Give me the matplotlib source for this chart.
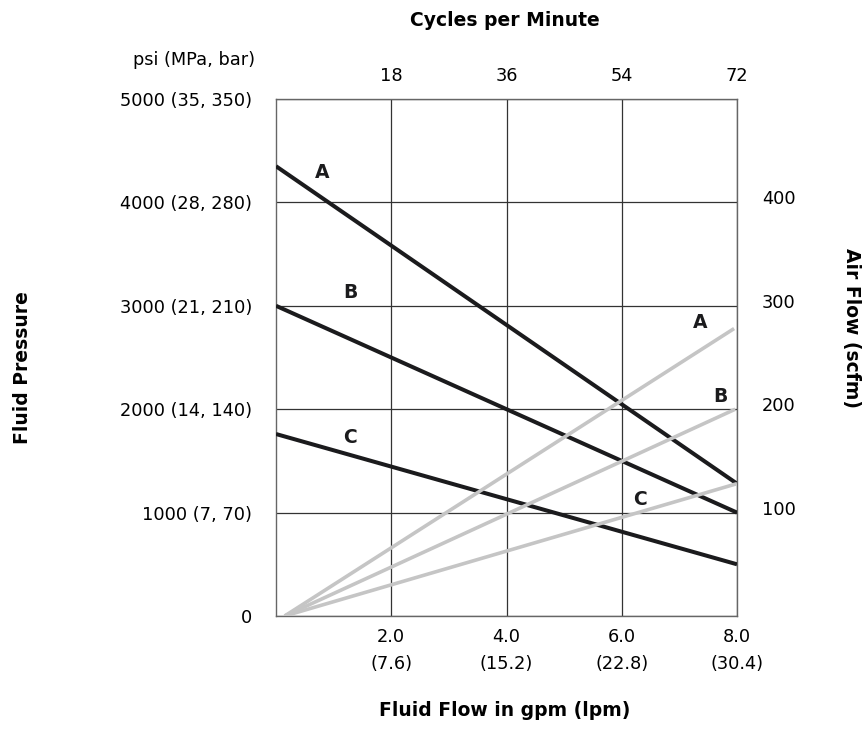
import matplotlib
matplotlib.use("Agg")
import matplotlib.pyplot as plt
import matplotlib.transforms as mtransforms

plt.rcParams['font.family'] = ['DejaVu Sans']

# ---- data ----
flow_gpm = [0.0, 8.0]
pressure_A = [4350, 1280]
pressure_B = [3000, 1000]
pressure_C = [1760, 500]

air_A_x = [0.15, 7.95]
air_A = [0, 278]
air_B_x = [0.15, 7.97]
air_B = [0, 200]
air_C_x = [0.15, 8.0]
air_C = [0, 128]

x_ticks = [2, 4, 6, 8]
x_ticklabels = ["2.0\n(7.6)", "4.0\n(15.2)", "6.0\n(22.8)", "8.0\n(30.4)"]
y_ticks = [0, 1000, 2000, 3000, 4000, 5000]
y_ticklabels = ["0", "1000 (7, 70)", "2000 (14, 140)", "3000 (21, 210)",
                "4000 (28, 280)", "5000 (35, 350)"]
air_ticks = [100, 200, 300, 400]
cycle_ticks = [18, 36, 54, 72]

label_pos_pressure = {"A": (0.80, 4290), "B": (1.30, 3130), "C": (1.28, 1730)}
label_pos_air = {"A": (7.36, 284), "B": (7.71, 212), "C": (6.32, 113)}

BLACK = "#1b1b1d"
GRAY = "#c5c5c5"
FS = 12.8
FSB = 13.5

fig = plt.figure(figsize=(8.63, 7.56), dpi=100)
ax = fig.add_axes([276/863, 1-616/756, 461/863, 517/756])
ax.set_xlim(0, 8)
ax.set_ylim(0, 5000)

# grid
ax.set_xticks(x_ticks)
ax.set_xticklabels(x_ticklabels, fontsize=FS, linespacing=1.6)
ax.set_yticks(y_ticks)
ax.set_yticklabels(y_ticklabels, fontsize=FS)
ax.tick_params(axis='both', length=0)
ax.tick_params(axis='x', pad=9)
ax.tick_params(axis='y', pad=17)
ax.grid(True, color="#333333", linewidth=0.9)
ax.set_axisbelow(True)
for s in ax.spines.values():
    s.set_color("#666666")
    s.set_linewidth(1.0)

# pressure lines
for ys in (pressure_A, pressure_B, pressure_C):
    ax.plot(flow_gpm, ys, color=BLACK, linewidth=2.9, solid_capstyle='butt', zorder=4)

# air axis (right)
ax2 = ax.twinx()
ax2.set_ylim(0, 500)
ax2.set_yticks(air_ticks)
ax2.set_yticklabels([str(t) for t in air_ticks], fontsize=FS)
ax2.tick_params(axis='y', length=0, pad=18)
up = mtransforms.ScaledTranslation(0, 5/100, fig.dpi_scale_trans)
for lab in ax2.get_yticklabels():
    lab.set_transform(lab.get_transform() + up)
for s in ax2.spines.values():
    s.set_visible(False)
for xs, ys in ((air_A_x, air_A), (air_B_x, air_B), (air_C_x, air_C)):
    ax2.plot(xs, ys, color=GRAY, linewidth=2.6, solid_capstyle='butt', zorder=3)

for k, (x, y) in label_pos_air.items():
    ax2.text(x, y, k, fontsize=FSB, fontweight='bold', ha='center', va='center', color=BLACK)
for k, (x, y) in label_pos_pressure.items():
    ax2.text(x, y / 10, k, fontsize=FSB, fontweight='bold', ha='center', va='center', color=BLACK)

# cycles axis (top)
ax3 = ax.twiny()
ax3.set_xlim(0, 72)
ax3.set_xticks(cycle_ticks)
ax3.set_xticklabels([str(t) for t in cycle_ticks], fontsize=FS)
ax3.tick_params(axis='x', length=0, pad=10)
for s in ax3.spines.values():
    s.set_visible(False)

# titles / axis labels
fig.text(505/863, 1-20/756, "Cycles per Minute", fontsize=FSB, fontweight='bold',
         ha='center', va='center')
fig.text(505/863, 1-710/756, "Fluid Flow in gpm (lpm)", fontsize=FSB, fontweight='bold',
         ha='center', va='center')
fig.text(22/863, 1-368/756, "Fluid Pressure", fontsize=FSB, fontweight='bold',
         ha='center', va='center', rotation=90)
fig.text(851/863, 1-328/756, "Air Flow (scfm)", fontsize=FSB, fontweight='bold',
         ha='center', va='center', rotation=270)
fig.text(255/863, 1-60/756, "psi (MPa, bar)", fontsize=FS, ha='right', va='center')

fig.savefig("out.png", dpi=100, facecolor='white')
